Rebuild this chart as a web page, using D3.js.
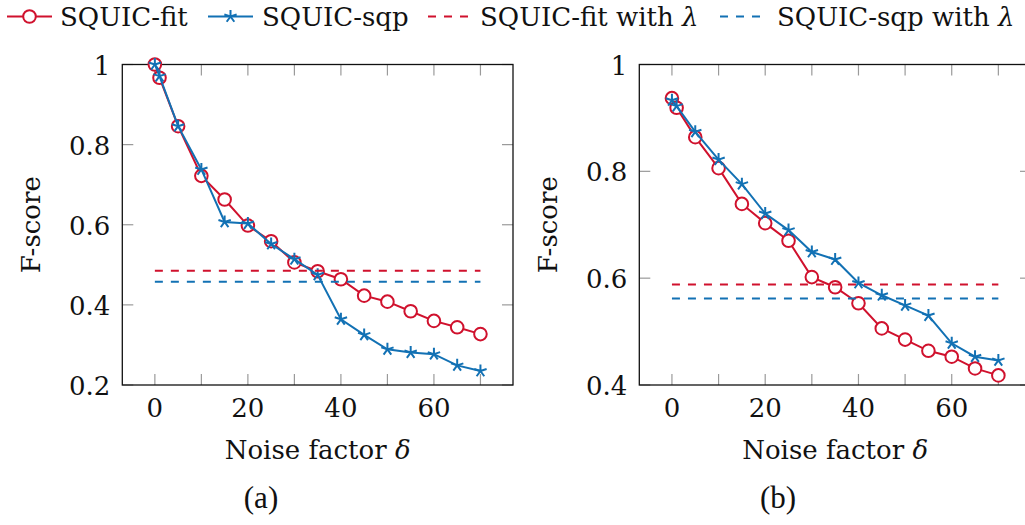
<!DOCTYPE html>
<html>
<head>
<meta charset="utf-8">
<script src="https://cdn.jsdelivr.net/npm/d3@7"></script>
<style>
  html, body { margin: 0; padding: 0; background: #fff; }
  svg { display: block; }
  text { font-family: "DejaVu Serif", serif; fill: #111; }
</style>
</head>
<body>
<svg id="chart" width="1025" height="525"></svg>
<script>
// Noise factor values shared by both panels
const noise = [0, 1, 5, 10, 15, 20, 25, 30, 35, 40, 45, 50, 55, 60, 65, 70];

// Panel (a)
const fitA = [1.0, 0.967, 0.846, 0.722, 0.663, 0.598, 0.559, 0.506, 0.484, 0.464, 0.423, 0.408, 0.384, 0.360, 0.344, 0.327];
const sqpA = [1.0, 0.971, 0.846, 0.738, 0.607, 0.603, 0.552, 0.514, 0.475, 0.364, 0.325, 0.289, 0.281, 0.277, 0.249, 0.235];
const fitLambdaA = 0.485;
const sqpLambdaA = 0.458;

// Panel (b)
const fitB = [0.937, 0.919, 0.864, 0.806, 0.739, 0.703, 0.670, 0.602, 0.583, 0.553, 0.506, 0.485, 0.464, 0.453, 0.431, 0.418];
const sqpB = [0.933, 0.922, 0.874, 0.822, 0.776, 0.721, 0.690, 0.649, 0.635, 0.591, 0.568, 0.549, 0.530, 0.478, 0.453, 0.446];
const fitLambdaB = 0.588;
const sqpLambdaB = 0.562;

const yTicksA = [0.2, 0.4, 0.6, 0.8, 1];
const yTicksB = [0.4, 0.6, 0.8, 1];
const xTickLabels = [0, 20, 40, 60];
const xTickMarks = [0, 10, 20, 30, 40, 50, 60, 70];

const seriesNames = ["SQUIC-fit", "SQUIC-sqp", "SQUIC-fit with ", "SQUIC-sqp with "];

const RED = "#d0112d";
const BLUE = "#1271b4";
const FONT = 26;

const svg = d3.select("#chart");

// pgfplots-style asterisk: five arms from the centre
function starPath(r) {
  let p = "";
  for (let k = 0; k < 5; k++) {
    const a = -Math.PI / 2 + k * 2 * Math.PI / 5;
    p += `M0,0L${(r * Math.cos(a)).toFixed(2)},${(r * Math.sin(a)).toFixed(2)}`;
  }
  return p;
}

function fmtY(v) { return v === 1 ? "1" : d3.format(".1f")(v); }

function panel(opts) {
  const { left, right, top, bottom, yDomain, yTicks, fit, sqp, fitL, sqpL, caption, captionX } = opts;
  const x = d3.scaleLinear().domain([-7, 77]).range([left, right]);
  const y = d3.scaleLinear().domain(yDomain).range([bottom, top]);
  const g = svg.append("g");

  // inner tick marks on all four sides
  const tickLen = 11;
  const tg = g.append("g").attr("stroke", "#9a9a9a").attr("stroke-width", 1.2);
  xTickMarks.forEach(v => {
    tg.append("line").attr("x1", x(v)).attr("x2", x(v)).attr("y1", bottom).attr("y2", bottom - tickLen);
    tg.append("line").attr("x1", x(v)).attr("x2", x(v)).attr("y1", top).attr("y2", top + tickLen);
  });
  yTicks.forEach(v => {
    tg.append("line").attr("x1", left).attr("x2", left + tickLen).attr("y1", y(v)).attr("y2", y(v));
    tg.append("line").attr("x1", right).attr("x2", right - tickLen).attr("y1", y(v)).attr("y2", y(v));
  });

  // frame
  g.append("rect").attr("x", left).attr("y", top)
    .attr("width", right - left).attr("height", bottom - top)
    .attr("fill", "none").attr("stroke", "#111").attr("stroke-width", 1.3);

  // tick labels
  g.selectAll(".yl").data(yTicks).enter().append("text")
    .attr("x", left - 12).attr("y", d => y(d) + 10)
    .attr("text-anchor", "end").attr("font-size", FONT)
    .text(fmtY);
  g.selectAll(".xl").data(xTickLabels).enter().append("text")
    .attr("x", d => x(d)).attr("y", 417)
    .attr("text-anchor", "middle").attr("font-size", FONT)
    .text(d => d);

  // axis titles
  const xt = g.append("text").attr("x", (left + right) / 2).attr("y", 459)
    .attr("text-anchor", "middle").attr("font-size", FONT);
  xt.append("tspan").text("Noise factor ");
  xt.append("tspan").attr("font-style", "italic").text("δ");
  g.append("text")
    .attr("transform", `translate(${left - 82},${(top + bottom) / 2}) rotate(-90)`)
    .attr("text-anchor", "middle").attr("font-size", FONT)
    .text("F-score");

  // caption
  g.append("text").attr("x", captionX).attr("y", 508)
    .attr("text-anchor", "middle").attr("font-size", 31)
    .style("font-family", "'Liberation Serif', serif")
    .text(caption);

  const line = d3.line().x((d, i) => x(noise[i])).y(d => y(d));

  // SQUIC-fit
  g.append("path").datum(fit).attr("d", line)
    .attr("fill", "none").attr("stroke", RED).attr("stroke-width", 2);
  g.selectAll(".fitm").data(fit).enter().append("circle")
    .attr("cx", (d, i) => x(noise[i])).attr("cy", d => y(d)).attr("r", 6.3)
    .attr("fill", "#fff").attr("stroke", RED).attr("stroke-width", 2);

  // SQUIC-sqp
  g.append("path").datum(sqp).attr("d", line)
    .attr("fill", "none").attr("stroke", BLUE).attr("stroke-width", 2);
  g.selectAll(".sqpm").data(sqp).enter().append("path")
    .attr("transform", (d, i) => `translate(${x(noise[i])},${y(d)})`)
    .attr("d", starPath(6.5))
    .attr("fill", "none").attr("stroke", BLUE).attr("stroke-width", 2);

  // reference levels with lambda
  [[fitL, RED], [sqpL, BLUE]].forEach(([v, c]) => {
    g.append("line")
      .attr("x1", x(noise[0])).attr("x2", x(noise[noise.length - 1]))
      .attr("y1", y(v)).attr("y2", y(v))
      .attr("stroke", c).attr("stroke-width", 2).attr("stroke-dasharray", "8,8");
  });
}

panel({ left: 122.3, right: 513, top: 64.5, bottom: 385, yDomain: [0.2, 1], yTicks: yTicksA,
        fit: fitA, sqp: sqpA, fitL: fitLambdaA, sqpL: sqpLambdaA, caption: "(a)", captionX: 261 });
panel({ left: 639.3, right: 1031, top: 64.5, bottom: 385, yDomain: [0.4, 1], yTicks: yTicksB,
        fit: fitB, sqp: sqpB, fitL: fitLambdaB, sqpL: sqpLambdaB, caption: "(b)", captionX: 778 });

// legend
const ly = 16.5, lb = 26;
const leg = svg.append("g");
// SQUIC-fit
leg.append("line").attr("x1", 7).attr("x2", 52).attr("y1", ly).attr("y2", ly)
  .attr("stroke", RED).attr("stroke-width", 2);
leg.append("circle").attr("cx", 29.5).attr("cy", ly).attr("r", 6.3)
  .attr("fill", "#fff").attr("stroke", RED).attr("stroke-width", 2);
leg.append("text").attr("x", 60).attr("y", lb).attr("font-size", FONT).text(seriesNames[0]);
// SQUIC-sqp
leg.append("line").attr("x1", 208).attr("x2", 253).attr("y1", ly).attr("y2", ly)
  .attr("stroke", BLUE).attr("stroke-width", 2);
leg.append("path").attr("transform", `translate(230.5,${ly})`).attr("d", starPath(6.5))
  .attr("fill", "none").attr("stroke", BLUE).attr("stroke-width", 2);
leg.append("text").attr("x", 262).attr("y", lb).attr("font-size", FONT).text(seriesNames[1]);
// dashed entries
[[428, 480, RED, seriesNames[2]], [720, 777, BLUE, seriesNames[3]]].forEach(([lx, tx, c, name]) => {
  leg.append("line").attr("x1", lx).attr("x2", lx + 40).attr("y1", ly).attr("y2", ly)
    .attr("stroke", c).attr("stroke-width", 2).attr("stroke-dasharray", "8,8");
  const t = leg.append("text").attr("x", tx).attr("y", lb).attr("font-size", FONT);
  t.append("tspan").text(name);
  t.append("tspan").attr("font-style", "italic").text("λ");
});
</script>
</body>
</html>
